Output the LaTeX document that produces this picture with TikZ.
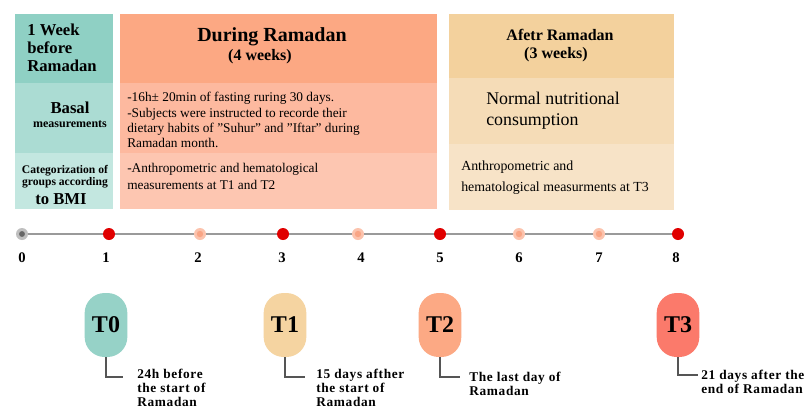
\documentclass[tikz,border=0pt]{standalone}
\usepackage{fontspec}
\setmainfont{Liberation Serif}
\begin{document}
\begin{tikzpicture}[x=0.75pt,y=-0.75pt,
  lbl/.style={inner sep=0pt,font=\bfseries},
  body/.style={inner sep=0pt,align=left,anchor=west},
  num/.style={inner sep=0pt,font=\bfseries\fontsize{11}{12}\selectfont},
  reddot/.style={circle,fill=dotred,minimum size=9pt,inner sep=0pt},
  lightdot/.style={circle,fill=halo,minimum size=9pt,inner sep=0pt},
  pill/.style={rounded corners=15pt,minimum width=32pt,minimum height=48pt,inner sep=0pt,font=\bfseries\fontsize{18}{20}\selectfont},
  leader/.style={draw=leadgray,line width=1.2pt},
  note/.style={inner sep=0pt,align=left,anchor=west,font=\bfseries\fontsize{10}{10.5}\selectfont\addfontfeatures{LetterSpace=5}}
]
\definecolor{tealA}{HTML}{8FD0C4}
\definecolor{tealB}{HTML}{ABDCD3}
\definecolor{tealC}{HTML}{C3E7E0}
\definecolor{salA}{HTML}{FCA883}
\definecolor{salB}{HTML}{FDB99F}
\definecolor{salC}{HTML}{FDC6B1}
\definecolor{sandA}{HTML}{F3D19D}
\definecolor{sandB}{HTML}{F5DCB7}
\definecolor{sandC}{HTML}{F7E3C7}
\definecolor{dotred}{HTML}{E00000}
\definecolor{halo}{HTML}{FCC3AD}
\definecolor{haloin}{HTML}{F9A585}
\definecolor{leadgray}{HTML}{555555}
\definecolor{linegray}{HTML}{9A9A9A}
\definecolor{pillT0}{HTML}{96D2C7}
\definecolor{pillT1}{HTML}{F5D4A1}
\definecolor{pillT2}{HTML}{FCA984}
\definecolor{pillT3}{HTML}{FB7A6B}

\useasboundingbox (0,0) rectangle (806,408);
\fill[white] (0,0) rectangle (806,408);

% left column
\fill[tealA] (15,14) rectangle (113,83);
\fill[tealB] (15,83) rectangle (113,153);
\fill[tealC] (15,153) rectangle (113,209);
% middle column
\fill[salA] (120,14) rectangle (437,83);
\fill[salB] (120,83) rectangle (437,153);
\fill[salC] (120,153) rectangle (437,209);
% right column
\fill[sandA] (449,14) rectangle (674,78);
\fill[sandB] (449,78) rectangle (674,144);
\fill[sandC] (449,144) rectangle (674,210);

% left texts
\node[lbl,align=left,anchor=west,font=\bfseries\fontsize{12.5}{13.5}\selectfont] (wk) at (27,48) {1 Week\\before\\Ramadan};
\node[lbl,font=\bfseries\fontsize{12.5}{14}\selectfont] (basal) at (70,108) {Basal};
\node[lbl,font=\bfseries\fontsize{9}{10}\selectfont] (meas) at (70,124) {measurements};
\node[lbl,align=center,font=\bfseries\fontsize{8.7}{9.2}\selectfont] (cat) at (65,177) {Categorization of\\groups according};
\node[lbl,font=\bfseries\fontsize{12.5}{14}\selectfont] (bmi) at (61,199) {to BMI};

% middle texts
\node[lbl,font=\bfseries\fontsize{15}{16}\selectfont] (dur) at (272,37) {During Ramadan};
\node[lbl,font=\bfseries\fontsize{12}{13}\selectfont] (dur4) at (260,57) {(4 weeks)};
\node[body,font=\fontsize{10}{11.4}\selectfont] (fast) at (127,120) {-16h± 20min of fasting ruring 30 days.\\-Subjects were instructed to recorde their\\dietary habits of \symbol{34}Suhur\symbol{34} and \symbol{34}Iftar\symbol{34} during\\Ramadan month.};
\node[body,font=\fontsize{10}{12.8}\selectfont] (anth) at (127,176.5) {-Anthropometric and hematological\\measurements at T1 and T2};

% right texts
\node[lbl,font=\bfseries\fontsize{12}{13}\selectfont] (aft) at (560,35) {Afetr Ramadan};
\node[lbl,font=\bfseries\fontsize{12}{13}\selectfont] (aft3) at (556,55) {(3 weeks)};
\node[body,font=\fontsize{13.4}{15.5}\selectfont] (norm) at (486,111) {Normal nutritional\\consumption};
\node[body,font=\fontsize{10.4}{15.5}\selectfont] (anth3) at (461,177.5) {Anthropometric and\\hematological measurments at T3};

% timeline
\node[circle,fill=black!25,minimum size=9pt,inner sep=0pt] (p0) at (22,234) {};
\node[reddot] (p1) at (109,234) {};
\node[lightdot] (p2) at (200,234) {};
\node[reddot] (p3) at (283,234) {};
\node[lightdot] (p4) at (358,234) {};
\node[reddot] (p5) at (440,234) {};
\node[lightdot] (p6) at (519,234) {};
\node[lightdot] (p7) at (599,234) {};
\node[reddot] (p8) at (678,234) {};
\draw[linegray,line width=1.3pt] (p0) -- (p1) -- (p2) -- (p3) -- (p4) -- (p5) -- (p6) -- (p7) -- (p8);
\fill[black!60] (p0.center) circle (2.2pt);
\foreach \p in {p2,p4,p6,p7} \fill[haloin] (\p.center) circle (2.4pt);

\node[num] (n0) at (22,258) {0};
\node[num] (n1) at (106,258) {1};
\node[num] (n2) at (198,258) {2};
\node[num] (n3) at (282,258) {3};
\node[num] (n4) at (361,258) {4};
\node[num] (n5) at (440,258) {5};
\node[num] (n6) at (519,258) {6};
\node[num] (n7) at (599,258) {7};
\node[num] (n8) at (676,258) {8};

% pills
\node[pill,fill=pillT0] (T0) at (106,325) {T0};
\node[pill,fill=pillT1] (T1) at (285,325) {T1};
\node[pill,fill=pillT2] (T2) at (440,325) {T2};
\node[pill,fill=pillT3] (T3) at (678,325) {T3};

\coordinate (e0) at (123,377);
\coordinate (e1) at (305,377);
\coordinate (e2) at (460,377);
\coordinate (e3) at (698,375);
\draw[leader] (T0.south) |- (e0);
\draw[leader] (T1.south) |- (e1);
\draw[leader] (T2.south) |- (e2);
\draw[leader] (T3.south) |- (e3);

\node[note] (d0) at (137,388) {24h before\\the start of\\Ramadan};
\node[note] (d1) at (316,388) {15 days afther\\the start of\\Ramadan};
\node[note] (d2) at (469,384) {The last day of\\Ramadan};
\node[note] (d3) at (701,382) {21 days after the\\end of Ramadan};
\end{tikzpicture}
\end{document}
